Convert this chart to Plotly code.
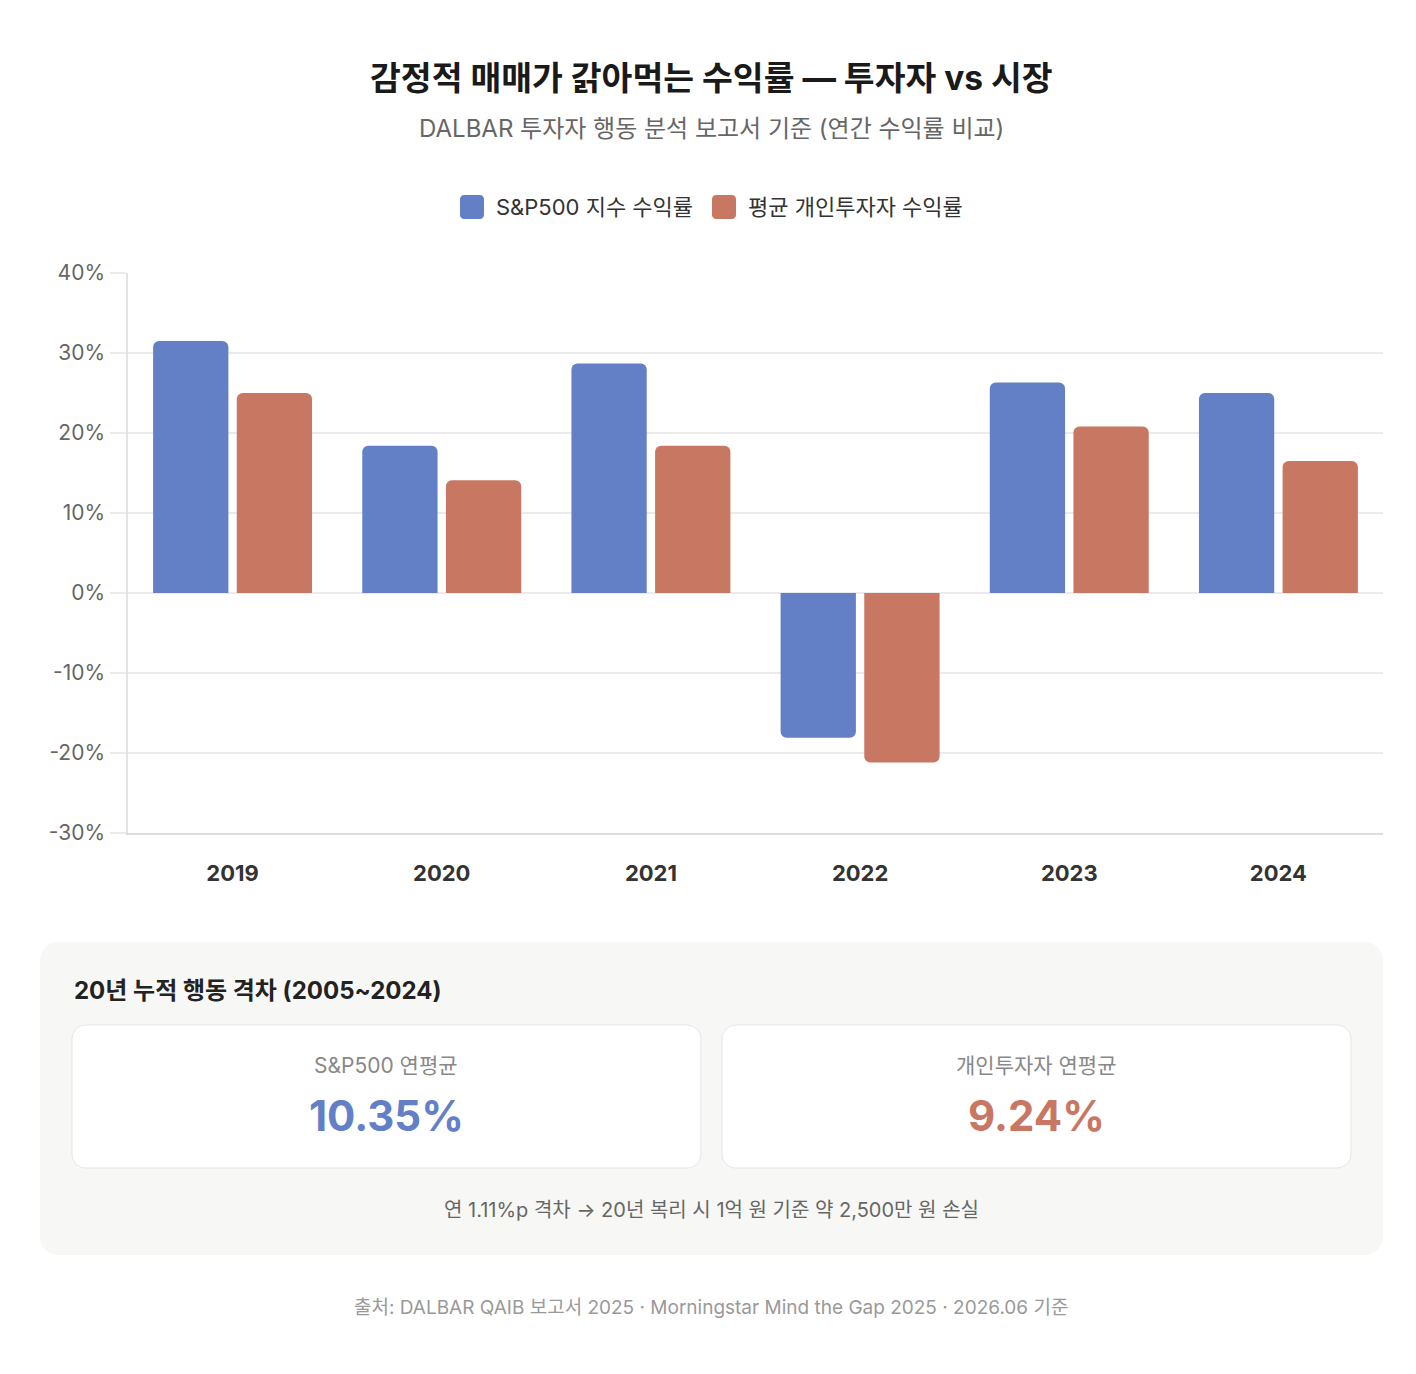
import plotly.graph_objects as go

# ---------------- data ----------------
years = ["2019", "2020", "2021", "2022", "2023", "2024"]
sp500_returns = [31.5, 18.4, 28.7, -18.1, 26.3, 25.0]
investor_returns = [25.0, 14.1, 18.4, -21.2, 20.8, 16.5]
series_names = ["S&P500 지수 수익률", "평균 개인투자자 수익률"]
ytick_values = [-30, -20, -10, 0, 10, 20, 30, 40]
ytick_labels = ["-30%", "-20%", "-10%", "0%", "10%", "20%", "30%", "40%"]
sp500_avg = 10.35
investor_avg = 9.24
summary_labels = ["S&P500 연평균", "개인투자자 연평균"]

# ---------------- style ----------------
W, H = 1416, 1374
ML, MR, MT, MB = 128, 33, 273, 541
BLUE = "#6380C6"
RED = "#C87763"
FONT = "Inter, 'Noto Sans CJK KR', sans-serif"

PW = W - ML - MR
PH = H - MT - MB


def px(x):
    return (x - ML) / PW


def py(y):
    return (H - MB - y) / PH


def rrect(x0, y0, x1, y1, r):
    # rounded rectangle path in paper coordinates from a pixel box
    k = 0.45
    pts = [
        ("M", [(x0 + r, y0)]),
        ("L", [(x1 - r, y0)]),
        ("C", [(x1 - r * k, y0), (x1, y0 + r * k), (x1, y0 + r)]),
        ("L", [(x1, y1 - r)]),
        ("C", [(x1, y1 - r * k), (x1 - r * k, y1), (x1 - r, y1)]),
        ("L", [(x0 + r, y1)]),
        ("C", [(x0 + r * k, y1), (x0, y1 - r * k), (x0, y1 - r)]),
        ("L", [(x0, y0 + r)]),
        ("C", [(x0, y0 + r * k), (x0 + r * k, y0), (x0 + r, y0)]),
    ]
    s = ""
    for cmd, cs in pts:
        s += cmd + " " + " ".join(f"{px(a):.6f},{py(b):.6f}" for a, b in cs) + " "
    return s + "Z"


fig = go.Figure()
fig.add_trace(go.Bar(x=years, y=sp500_returns, name=series_names[0],
                     marker=dict(color=BLUE, cornerradius=6, line=dict(width=0)),
                     hovertemplate="%{x}: %{y}%<extra></extra>"))
fig.add_trace(go.Bar(x=years, y=investor_returns, name=series_names[1],
                     marker=dict(color=RED, cornerradius=6, line=dict(width=0)),
                     hovertemplate="%{x}: %{y}%<extra></extra>"))

shapes = [
    dict(type="path", xref="paper", yref="paper", path=rrect(40, 942, 1383, 1255, 18),
         fillcolor="#F7F7F5", line=dict(width=0), layer="below"),
    dict(type="path", xref="paper", yref="paper", path=rrect(72, 1025, 701, 1168, 14),
         fillcolor="#FFFFFF", line=dict(color="#E6E6E6", width=1), layer="below"),
    dict(type="path", xref="paper", yref="paper", path=rrect(722, 1025, 1351, 1168, 14),
         fillcolor="#FFFFFF", line=dict(color="#E6E6E6", width=1), layer="below"),
    # legend swatches
    dict(type="path", xref="paper", yref="paper", path=rrect(460, 195, 484, 219, 4),
         fillcolor=BLUE, line=dict(width=0)),
    dict(type="path", xref="paper", yref="paper", path=rrect(712, 195, 736, 219, 4),
         fillcolor=RED, line=dict(width=0)),
]

ann = []


def text(x, y, s, size, color, bold=False, xanchor="center"):
    ann.append(dict(xref="paper", yref="paper", x=px(x), y=py(y), text=(f"<b>{s}</b>" if bold else s),
                    showarrow=False, xanchor=xanchor, yanchor="middle",
                    font=dict(size=size, color=color, family=FONT)))


text(711, 78, "감정적 매매가 갉아먹는 수익률 — 투자자 vs 시장", 33.5, "#1a1a1a", bold=True)
text(711, 128, "DALBAR 투자자 행동 분석 보고서 기준 (연간 수익률 비교)", 24, "#666666")
text(494, 207, series_names[0], 22, "#333333", xanchor="left")
text(746, 207, series_names[1], 22, "#333333", xanchor="left")
text(72, 990, "20년 누적 행동 격차 (2005~2024)", 24, "#222222", bold=True, xanchor="left")
text(386, 1065, summary_labels[0], 21, "#888888")
text(1036, 1065, summary_labels[1], 21, "#888888")
text(386, 1115, f"{sp500_avg:.2f}%", 42, BLUE, bold=True)
text(1036, 1115, f"{investor_avg:.2f}%", 42, RED, bold=True)
text(711, 1210, "연 1.11%p 격차 → 20년 복리 시 1억 원 기준 약 2,500만 원 손실", 20, "#666666")
text(711, 1307, "출처: DALBAR QAIB 보고서 2025 · Morningstar Mind the Gap 2025 · 2026.06 기준", 19, "#999999")

fig.update_layout(
    width=W, height=H,
    margin=dict(l=ML, r=MR, t=MT, b=MB, autoexpand=False),
    paper_bgcolor="white", plot_bgcolor="white",
    font=dict(family=FONT, color="#333333"),
    barmode="group", bargap=0.2, bargroupgap=0.1,
    showlegend=False,
    shapes=shapes, annotations=ann,
    xaxis=dict(showgrid=False, showline=True, linecolor="#DDDDDD", linewidth=1.5,
               ticks="", tickfont=dict(size=22, color="#333333", family=FONT, weight="bold"),
               ticklabelstandoff=20, fixedrange=True),
    yaxis=dict(range=[-30, 40], tickvals=ytick_values, ticktext=ytick_labels,
               showgrid=True, gridcolor="#EBEBEB", gridwidth=1.5,
               zeroline=False, showline=True, linecolor="#E3E3E3", linewidth=1.5,
               ticks="outside", ticklen=16, tickcolor="#EBEBEB", tickwidth=1.5,
               tickfont=dict(size=21, color="#666666", family=FONT),
               ticklabelstandoff=1, fixedrange=True),
)

fig.write_html("out.html")
